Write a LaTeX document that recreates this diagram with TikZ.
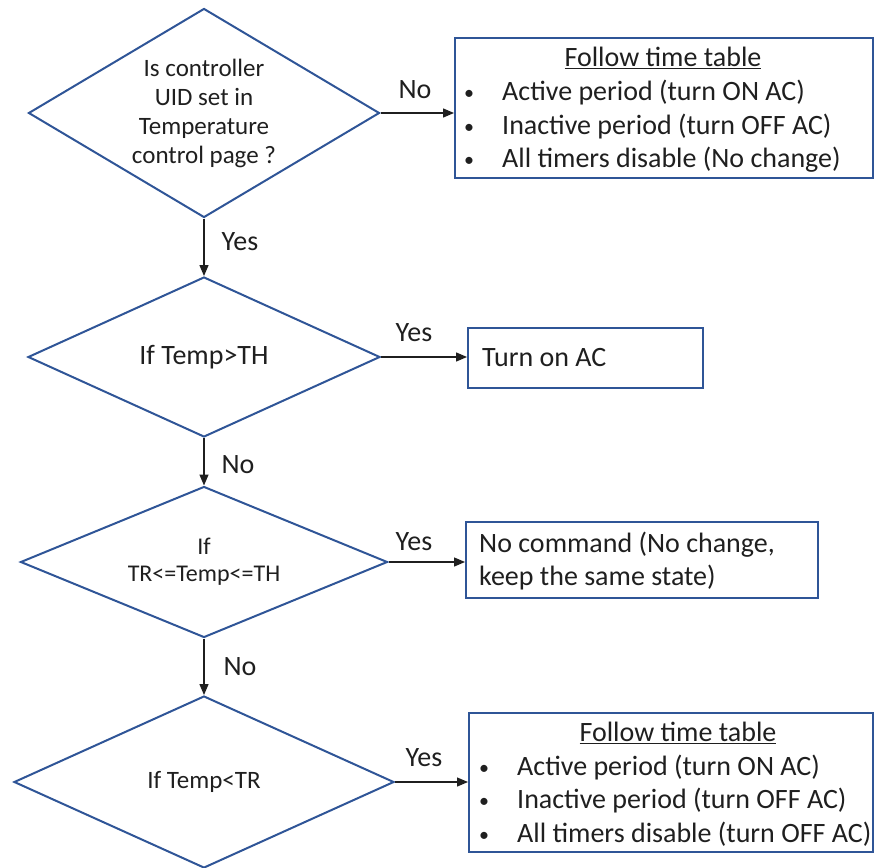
\documentclass[tikz,border=0pt]{standalone}
\usepackage{fontspec}
\setmainfont{Carlito}
\usetikzlibrary{shapes.geometric,arrows.meta}
\definecolor{dblue}{HTML}{2F5597}
\definecolor{txt}{HTML}{1F1F1F}
\newcommand{\smbul}{\makebox[38pt][l]{\raisebox{1pt}{\fontsize{20}{20}\selectfont•}}}
\tikzset{
  dec/.style={diamond, draw=dblue, line width=2pt, inner sep=0pt, align=center, text=txt},
  boxn/.style={rectangle, draw=dblue, line width=2pt, inner sep=0pt},
  lbl/.style={text=txt, font=\fontsize{28}{34}\selectfont, inner sep=0pt},
  conn/.style={draw=txt, line width=1.3pt, -{Triangle[length=11pt,width=9pt]}},
  btxt/.style={text=txt, font=\fontsize{28}{33.5}\selectfont, inner sep=0pt, anchor=west, align=left},
}
\begin{document}
\begin{tikzpicture}[x=1pt,y=-1pt]
\useasboundingbox (0,0) rectangle (875,867);
% decisions
\node[dec, shape aspect=1.68, minimum width=351pt, minimum height=209pt, font=\fontsize{25}{29}\selectfont] (d1) at (204,113)
  {Is controller\\UID set in\\Temperature\\control page ?};
\node[dec, shape aspect=2.2, minimum width=352pt, minimum height=160pt, font=\fontsize{28}{33}\selectfont] (d2) at (204,357) {If Temp>TH};
\node[dec, shape aspect=2.4, minimum width=367pt, minimum height=151pt, font=\fontsize{24}{27}\selectfont] (d3) at (204,562) {If\\TR<=Temp<=TH};
\node[dec, shape aspect=2.2, minimum width=380pt, minimum height=172pt, font=\fontsize{25}{29}\selectfont] (d4) at (204,782) {If Temp<TR};
% boxes
\node[boxn, minimum width=418pt, minimum height=140pt] (b1) at (664,108) {};
\node[boxn, minimum width=235pt, minimum height=60pt] (b2) at (585.5,358) {};
\node[boxn, minimum width=352pt, minimum height=76pt] (b3) at (642,560) {};
\node[boxn, minimum width=404pt, minimum height=139pt] (b4) at (671,782.5) {};
% box texts
\node[btxt, anchor=center] (b1t) at (663,58) {\underline{Follow time table}};
\node[btxt] (b1a) at (464,93) {\smbul Active period (turn ON AC)};
\node[btxt] (b1b) at (464,127) {\smbul Inactive period (turn OFF AC)};
\node[btxt] (b1c) at (464,160) {\smbul All timers disable (No change)};
\node[btxt] (b2t) at (482,358) {Turn on AC};
\node[btxt] (b3t) at (479,561) {No command (No change,\\keep the same state)};
\node[btxt, anchor=center] (b4t) at (678,733) {\underline{Follow time table}};
\node[btxt] (b4a) at (479,768) {\smbul Active period (turn ON AC)};
\node[btxt] (b4b) at (479,801) {\smbul Inactive period (turn OFF AC)};
\node[btxt] (b4c) at (479,834) {\smbul All timers disable (turn OFF AC)};
% connectors
\draw[conn] (d1.east) -- (d1.east -| b1.west);
\draw[conn] (d1.south) -- (d2.north);
\draw[conn] (d2.east) -- (d2.east -| b2.west);
\draw[conn] (d2.south) -- (d3.north);
\draw[conn] (d3.east) -- (d3.east -| b3.west);
\draw[conn] (d3.south) -- (d4.north);
\draw[conn] (d4.east) -- (d4.east -| b4.west);
% labels
\node[lbl] (l1) at (415,90) {No};
\node[lbl] (l2) at (240,242) {Yes};
\node[lbl] (l3) at (414,333) {Yes};
\node[lbl] (l4) at (238,465) {No};
\node[lbl] (l5) at (414,542) {Yes};
\node[lbl] (l6) at (240,667) {No};
\node[lbl] (l7) at (424,758) {Yes};
\end{tikzpicture}
\end{document}
